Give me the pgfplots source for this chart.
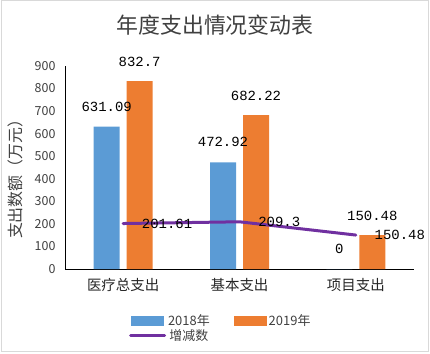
\documentclass[border=0pt]{standalone}
\usepackage{pgfplots}
\pgfplotsset{compat=1.18}
\usepackage{fontspec}
\setmainfont{Noto Sans CJK SC}
\newfontfamily\monofont{Liberation Mono}
\definecolor{cblue}{HTML}{5B9BD5}
\definecolor{corange}{HTML}{ED7D31}
\definecolor{cpurple}{HTML}{7030A0}
\definecolor{ctext}{HTML}{404040}
\begin{document}
\begin{tikzpicture}[x=1bp,y=1bp]
\useasboundingbox (0,0) rectangle (430,354);
\draw[color=black!15, line width=1bp] (1,2.5) rectangle (428.5,353);
\node[font=\fontsize{22}{24}\selectfont, text=ctext] at (215,329) {年度支出情况变动表};
\begin{axis}[
  at={(65bp,85bp)}, anchor=south west,
  width=349bp, height=203bp, scale only axis,
  xmin=-0.5, xmax=2.5, ymin=0, ymax=900,
  ytick={0,100,...,900},
  xtick={0,1,2}, xticklabels={医疗总支出,基本支出,项目支出},
  axis x line*=bottom, axis y line*=left,
  axis line style={-, black, line width=0.8bp},
  major tick length=0pt,
  /pgf/number format/assume math mode=true,
  yticklabel style={font=\fontsize{12.5}{14}\selectfont, text=ctext, xshift=-6bp},
  xticklabel style={font=\fontsize{14.5}{16}\selectfont, text=black!85, yshift=-6bp},
  ylabel={支出数额（万元）},
  ylabel style={at={(axis description cs:-0.143,0.462)}, anchor=center, font=\fontsize{16}{18}\selectfont, text=ctext},
  ybar=7bp, bar width=26bp,
  legend columns=2,
  legend style={draw=none, fill=none, at={(axis description cs:0.183,-0.215)}, anchor=north west,
    font=\fontsize{13}{14}\selectfont, text=ctext,
    /tikz/every even column/.append style={column sep=22bp},
    row sep=-2bp, inner sep=0pt},
  every node near coord/.append style={font=\monofont\fontsize{14}{15}\selectfont, text=black},
]
\addplot[fill=cblue, draw=none,
  nodes near coords, nodes near coords align={center},
  every node near coord/.append style={anchor=center, yshift=20bp},
  legend image code/.code={\fill[cblue] (0bp,-5bp) rectangle (33bp,5bp);}]
  coordinates {(0,631.09) (1,472.92) (2,0)};
\addlegendentry{2018年}
\addplot[fill=corange, draw=none,
  nodes near coords, nodes near coords align={center},
  every node near coord/.append style={anchor=center, yshift=19bp},
  legend image code/.code={\fill[corange] (0bp,-5bp) rectangle (33bp,5bp);}]
  coordinates {(0,832.7) (1,682.22) (2,150.48)};
\addlegendentry{2019年}
\addplot[sharp plot, color=cpurple, line width=3bp, line join=round, line cap=round,
  nodes near coords,
  every node near coord/.append style={anchor=west, xshift=14bp, yshift=0bp},
  legend image code/.code={\draw[cpurple, line width=3bp, line cap=round] (0bp,0bp) -- (34bp,0bp);}]
  coordinates {(0,201.61) (1,209.3) (2,150.48)};
\addlegendentry{增减数}
\end{axis}
\end{tikzpicture}
\end{document}
